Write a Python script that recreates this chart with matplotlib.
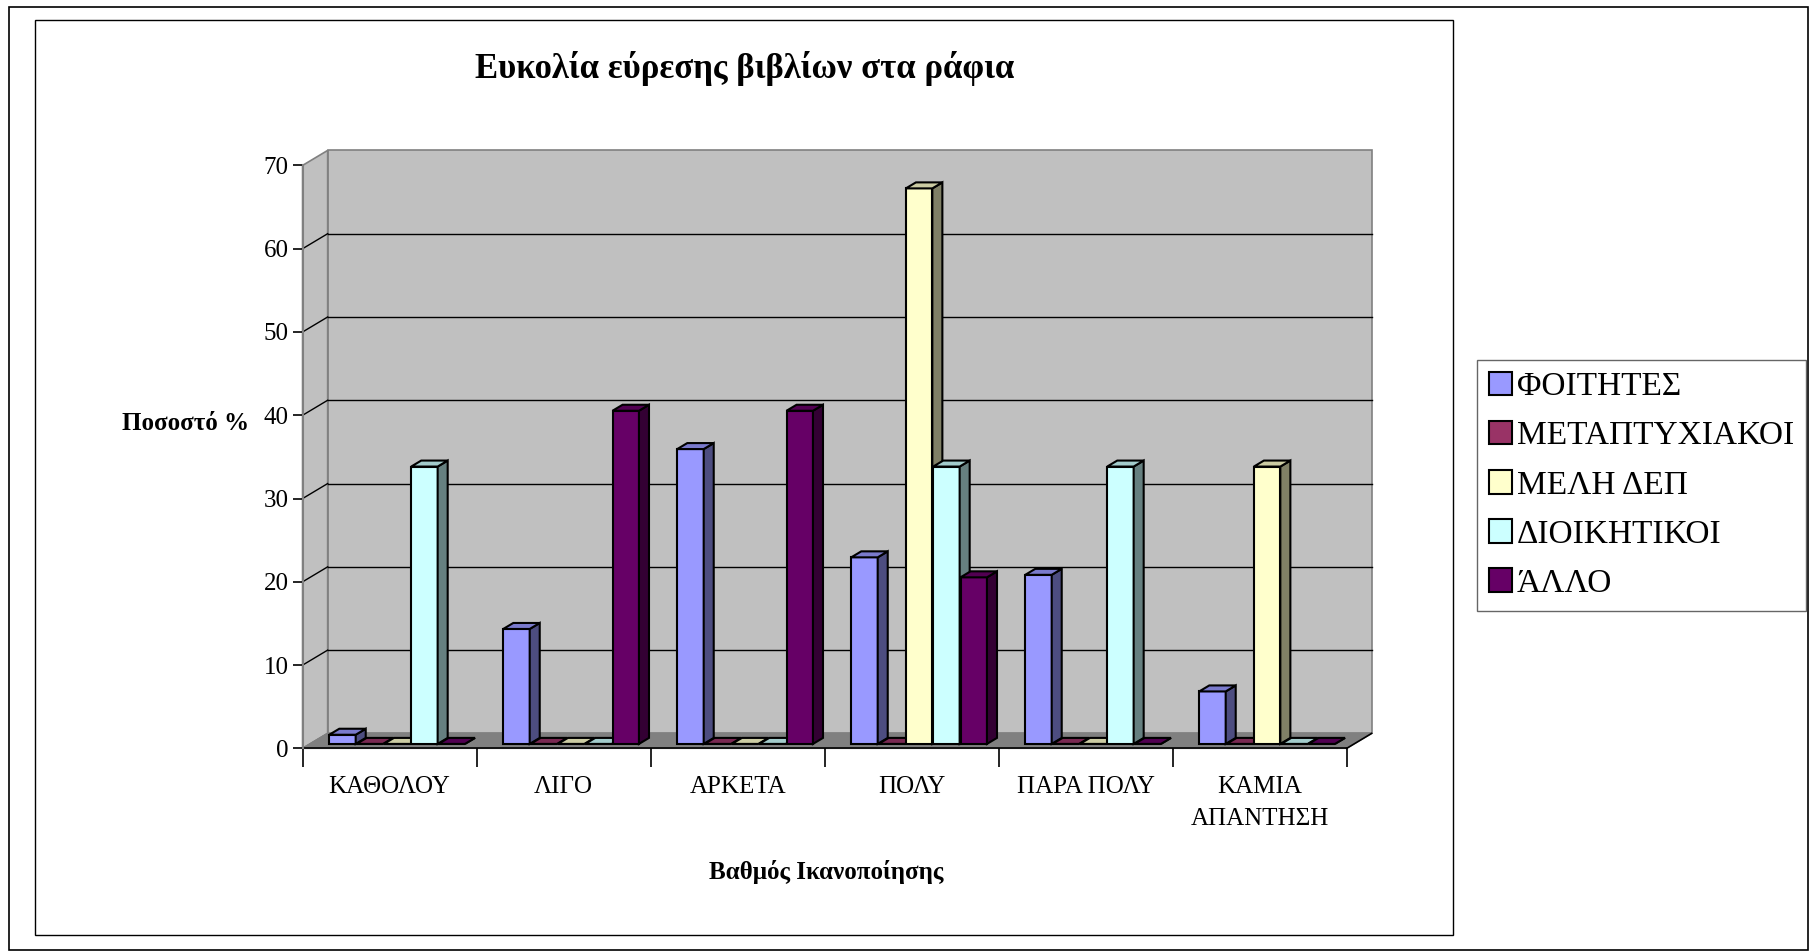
import numpy as np
import matplotlib
matplotlib.use("Agg")
import matplotlib.pyplot as plt
from matplotlib.patches import Polygon, Rectangle
from matplotlib.colors import to_rgb

plt.rcParams['font.family'] = ['Liberation Serif', 'DejaVu Serif']

# data
categories = ['ΚΑΘΟΛΟΥ', 'ΛΙΓΟ', 'ΑΡΚΕΤΑ', 'ΠΟΛΥ', 'ΠΑΡΑ ΠΟΛΥ', 'ΚΑΜΙΑ\nΑΠΑΝΤΗΣΗ']
series_names = ['ΦΟΙΤΗΤΕΣ', 'ΜΕΤΑΠΤΥΧΙΑΚΟΙ', 'ΜΕΛΗ ΔΕΠ', 'ΔΙΟΙΚΗΤΙΚΟΙ', 'ΆΛΛΟ']
foitites = [1.1, 13.8, 35.4, 22.4, 20.3, 6.3]
metaptyxiakoi = [0, 0, 0, 0, 0, 0]
meli_dep = [0, 0, 0, 66.7, 0, 33.3]
dioikitikoi = [33.3, 0, 0, 33.3, 33.3, 0]
allo = [0, 40, 40, 20, 0, 0]
yticks = [0, 10, 20, 30, 40, 50, 60, 70]

series = [foitites, metaptyxiakoi, meli_dep, dioikitikoi, allo]
colors = ['#9999FF', '#993366', '#FFFFCC', '#CCFFFF', '#660066']

W, H = 1811, 952
fig = plt.figure(figsize=(W / 100, H / 100), dpi=100)
fig.patch.set_facecolor('white')

# borders (outer picture + chart area)
fig.add_artist(Rectangle((9 / W, 2 / H), 1799 / W, 943 / H, transform=fig.transFigure,
                         fill=False, edgecolor='black', linewidth=1.2))
fig.add_artist(Rectangle((35 / W, 17 / H), 1418 / W, 915 / H, transform=fig.transFigure,
                         fill=False, edgecolor='black', linewidth=1.0))

ax = fig.add_axes([302.6 / W, 203.6 / H, 1044 / W, 583 / H])
ax.set_xlim(0, len(categories))
ax.set_ylim(0, 70)
ax.patch.set_visible(False)

# 3d depth in data units
dx, dy = 0.144, 1.8
ddx, ddy = 0.3 * dx, 0.3 * dy
bdx, bdy = 0.4 * dx, 0.4 * dy
n = len(categories)

# walls
ax.add_patch(Polygon([(dx, dy), (n + dx, dy), (n + dx, 70 + dy), (dx, 70 + dy)],
                     closed=True, facecolor='#C0C0C0', edgecolor='#808080', lw=1.2,
                     clip_on=False, zorder=0))
ax.add_patch(Polygon([(0, 0), (dx, dy), (dx, 70 + dy), (0, 70)],
                     closed=True, facecolor='#C0C0C0', edgecolor='#808080', lw=1.2,
                     clip_on=False, zorder=0))
ax.add_patch(Polygon([(0, 0), (n, 0), (n + dx, dy), (dx, dy)],
                     closed=True, facecolor='#808080', edgecolor='#808080', lw=1,
                     clip_on=False, zorder=0.5))
ax.plot([n, n + dx], [0, dy], color='black', lw=1.2, clip_on=False, zorder=0.6)

for y in yticks[1:-1]:
    ax.plot([dx, n + dx], [y + dy, y + dy], color='black', lw=1.0, clip_on=False, zorder=0.4)
    ax.plot([0, dx], [y, y + dy], color='black', lw=1.0, clip_on=False, zorder=0.4)
ax.plot([0, dx], [0, dy], color='#808080', lw=1.2, clip_on=False, zorder=0.4)

# bars
slot = 0.157
width = 0.152
x = np.arange(n) + 0.5
for j, (vals, col, name) in enumerate(zip(series, colors, series_names)):
    c = np.array(to_rgb(col))
    left = x + (j - 2) * slot - width / 2 + ddx
    bars = ax.bar(left, vals, width=width, bottom=ddy, align='edge', color=col,
                  edgecolor='black', linewidth=1.5, label=name)
    for i, rect in enumerate(bars):
        x0 = rect.get_x()
        b = rect.get_y()
        t = b + rect.get_height()
        zz = 2 + i * 10 + j
        rect.set_zorder(zz)
        side = Polygon([(x0 + width, b), (x0 + width + bdx, b + bdy),
                        (x0 + width + bdx, t + bdy), (x0 + width, t)],
                       closed=True, facecolor=c * 0.5, edgecolor='black', lw=1.5, zorder=zz)
        top = Polygon([(x0, t), (x0 + width, t), (x0 + width + bdx, t + bdy), (x0 + bdx, t + bdy)],
                      closed=True, facecolor=c * 0.8, edgecolor='black', lw=1.5, zorder=zz)
        ax.add_patch(side)
        ax.add_patch(top)

# axes / ticks
for s in ['top', 'right']:
    ax.spines[s].set_visible(False)
ax.spines['left'].set_color('#808080')
ax.spines['left'].set_linewidth(1.5)
ax.spines['bottom'].set_color('black')
ax.spines['bottom'].set_linewidth(1.2)
ax.spines['bottom'].set_zorder(1)

ax.set_yticks(yticks)
ax.set_yticklabels([str(v) for v in yticks], fontsize=18)
ax.tick_params(axis='y', length=7, width=1.2, color='black', pad=3)

ax.set_xticks(np.arange(n + 1))
ax.set_xticklabels([])
ax.set_xticks(x, minor=True)
ax.set_xticklabels(categories, minor=True, fontsize=18, linespacing=1.55)
ax.tick_params(axis='x', which='major', length=14, width=1.2, color='black')
ax.tick_params(axis='x', which='minor', length=0, pad=20)

fig.text(186 / W, 1 - 423 / H, 'Ποσοστό %', fontsize=18, fontweight='bold',
         ha='center', va='center')
fig.text(826 / W, 1 - 872 / H, 'Βαθμός Ικανοποίησης', fontsize=18, fontweight='bold',
         ha='center', va='center')
fig.text(745 / W, 1 - 68 / H, 'Ευκολία εύρεσης βιβλίων στα ράφια', fontsize=25,
         fontweight='bold', ha='center', va='center')

# legend
handles = [Rectangle((0, 0), 1, 1, facecolor=c, edgecolor='black', lw=1.5) for c in colors]
leg = fig.legend(handles, series_names, loc='upper left',
                 bbox_to_anchor=(1477 / W, 1 - 360 / H), fontsize=24,
                 frameon=True, fancybox=False, edgecolor='#404040',
                 handlelength=0.7, handleheight=0.7, handletextpad=0.15,
                 labelspacing=0.56, borderpad=0.35, borderaxespad=0)
leg.get_frame().set_linewidth(1.0)

fig.savefig('out.png', dpi=100, facecolor='white')
